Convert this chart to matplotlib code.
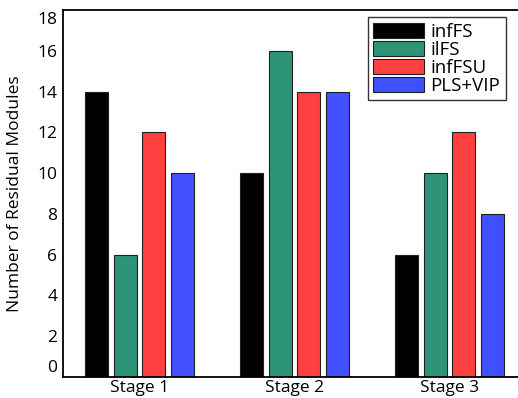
import matplotlib
matplotlib.use("Agg")
import matplotlib.pyplot as plt
import matplotlib.transforms as mtransforms
import numpy as np

stages = ["Stage 1", "Stage 2", "Stage 3"]
methods = ["infFS", "ilFS", "infFSU", "PLS+VIP"]
values = {
    "infFS": [14, 10, 6],
    "ilFS": [6, 16, 10],
    "infFSU": [12, 14, 12],
    "PLS+VIP": [10, 14, 8],
}
colors = ["#000000", "#2E9477", "#FF4040", "#4050FF"]
yticks = [0, 2, 4, 6, 8, 10, 12, 14, 16, 18]

plt.rcParams["font.family"] = ["Open Sans", "DejaVu Sans"]

fig = plt.figure(figsize=(5.18, 3.98), dpi=100)
ax = fig.add_axes([63 / 518, 1 - 377 / 398, 1 - 63 / 518, (377 - 10) / 398])

x = np.arange(len(stages))
pitch = 0.184
width = 0.148
for i, (m, c) in enumerate(zip(methods, colors)):
    ax.bar(x + (i - 1.5) * pitch, values[m], width=width, color=c,
           edgecolor="#202020", linewidth=0.8, label=m, zorder=2)

ax.set_xlim(-0.494, 2.442)
ax.set_ylim(0, 18)
ax.set_xticks(x)
ax.set_xticklabels(stages, fontsize=12.5)
ax.set_yticks(yticks)
ax.set_yticklabels([str(t) for t in yticks], fontsize=12.5)
ax.tick_params(length=0, pad=4)
ax.tick_params(axis="x", pad=2)
ax.set_ylabel("Number of Residual Modules", fontsize=12.5)
ax.yaxis.set_label_coords(-0.088, 0.5)

# keep the end labels inside the axis range
labels = ax.get_yticklabels()
labels[0].set_transform(labels[0].get_transform() +
                        mtransforms.ScaledTranslation(0, 11 / 100, fig.dpi_scale_trans))
labels[-1].set_transform(labels[-1].get_transform() +
                         mtransforms.ScaledTranslation(0, -8 / 100, fig.dpi_scale_trans))

for s in ["left", "bottom", "top"]:
    ax.spines[s].set_linewidth(1.3)
ax.spines["right"].set_visible(False)

leg = ax.legend(loc="upper right", bbox_to_anchor=((506 - 63) / 455, 1 - 7 / 367),
                fontsize=13.5, frameon=True, fancybox=False, edgecolor="black",
                handlelength=2.7, handleheight=0.85, handletextpad=0.35,
                borderpad=0.3, labelspacing=0.0, borderaxespad=0)
leg.get_frame().set_linewidth(1.0)

fig.savefig("out.png", dpi=100)
